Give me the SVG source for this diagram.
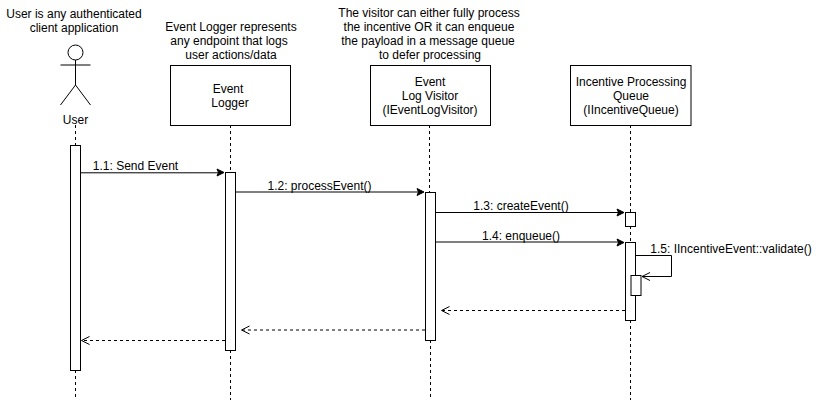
<svg xmlns="http://www.w3.org/2000/svg" width="822" height="402" viewBox="0 0 822 402">
<style>
text{font-family:"Liberation Sans",Arial,sans-serif;font-size:12px;fill:#000;text-anchor:middle}
.box,.act{fill:#fff;stroke:#000;stroke-width:1}
.life{fill:none;stroke:#000;stroke-width:1;stroke-dasharray:3 3}
.msg{fill:none;stroke:#000;stroke-width:1}
.ret{fill:none;stroke:#000;stroke-width:1;stroke-dasharray:3 3}
.open{fill:none;stroke:#000;stroke-width:1}
.head{fill:#000;stroke:#000;stroke-width:1}
</style>
<rect width="822" height="402" fill="#fff"/>
<g id="notes">
<text x="74" y="18">User is any authenticated</text>
<text x="74" y="32">client application</text>
<text x="231" y="31">Event Logger represents</text>
<text x="229" y="45">any endpoint that logs</text>
<text x="231" y="59">user actions/data</text>
<text x="429" y="17">The visitor can either fully process</text>
<text x="429" y="31">the incentive OR it can enqueue</text>
<text x="428" y="45">the payload in a message queue</text>
<text x="430" y="59">to defer processing</text>
</g>
<g id="lifelines">
<path class="life" d="M75.5 125V145M75.5 370V400"/>
<path class="life" d="M230.5 125V172M230.5 350V400"/>
<path class="life" d="M429.5 125V192M430.5 340V400"/>
<path class="life" d="M630.5 125V212M630.5 226V242M630.5 320V400"/>
</g>
<g id="user">
<circle class="box" cx="75.5" cy="52.5" r="7.5"/>
<path class="msg" d="M75.5 60V85M60.5 65H90.5M60.5 105L75.5 85L90.5 105"/>
<text x="75.5" y="124">User</text>
<rect class="act" x="70.5" y="145.5" width="10" height="225"/>
</g>
<g id="event-logger">
<rect class="box" x="170.5" y="65.5" width="120" height="60"/>
<text x="228" y="93">Event</text>
<text x="230" y="107">Logger</text>
<rect class="act" x="225.5" y="172.5" width="10" height="178"/>
</g>
<g id="event-log-visitor">
<rect class="box" x="370.5" y="65.5" width="120" height="60"/>
<text x="430" y="86">Event</text>
<text x="430" y="100">Log Visitor</text>
<text x="430" y="114">(IEventLogVisitor)</text>
<rect class="act" x="425.5" y="192.5" width="10" height="148"/>
</g>
<g id="incentive-queue">
<rect class="box" x="570.5" y="65.5" width="120.5" height="60"/>
<text x="631" y="86">Incentive Processing</text>
<text x="631" y="100">Queue</text>
<text x="631" y="114">(IIncentiveQueue)</text>
<rect class="act" x="625.5" y="212.5" width="10" height="14"/>
<rect class="act" x="625.5" y="242.5" width="10" height="78"/>
<rect class="act" x="631" y="275.5" width="10" height="20"/>
</g>
<g id="connectors">
<path class="msg" d="M80.5 172.8H219"/><path class="head" d="M224 172.5L217 176L218.500 172.500L217 169Z"/>
<path class="msg" d="M235.5 192H419"/><path class="head" d="M424 192L417 195.500L418.500 192L417 188.500Z"/>
<path class="msg" d="M435.5 212.500H619"/><path class="head" d="M624 212.500L617 216L618.500 212.500L617 209Z"/>
<path class="msg" d="M435.5 242H619"/><path class="head" d="M624 242.500L617 246L618.500 242.500L617 239Z"/>
<path class="msg" d="M635.5 255.500H671.500V276.500H642"/><path class="open" d="M650 272.500L642 276.500L650 280.500"/>
<path class="ret" d="M625 310.500H441.500"/><path class="open" d="M449.500 306.500L441.500 310.500L449.500 314.500"/>
<path class="ret" d="M425 330H241.500"/><path class="open" d="M249.500 326L241.500 330L249.500 334"/>
<path class="ret" d="M225 340.500H81.500"/><path class="open" d="M89.500 336.500L81.500 340.500L89.500 344.500"/>
</g>
<g id="labels">
<text x="135.500" y="170">1.1: Send Event</text>
<text x="319.500" y="190">1.2: processEvent()</text>
<text x="521" y="210">1.3: createEvent()</text>
<text x="521" y="240">1.4: enqueue()</text>
<text x="731" y="253">1.5: IIncentiveEvent::validate()</text>
</g>
</svg>
